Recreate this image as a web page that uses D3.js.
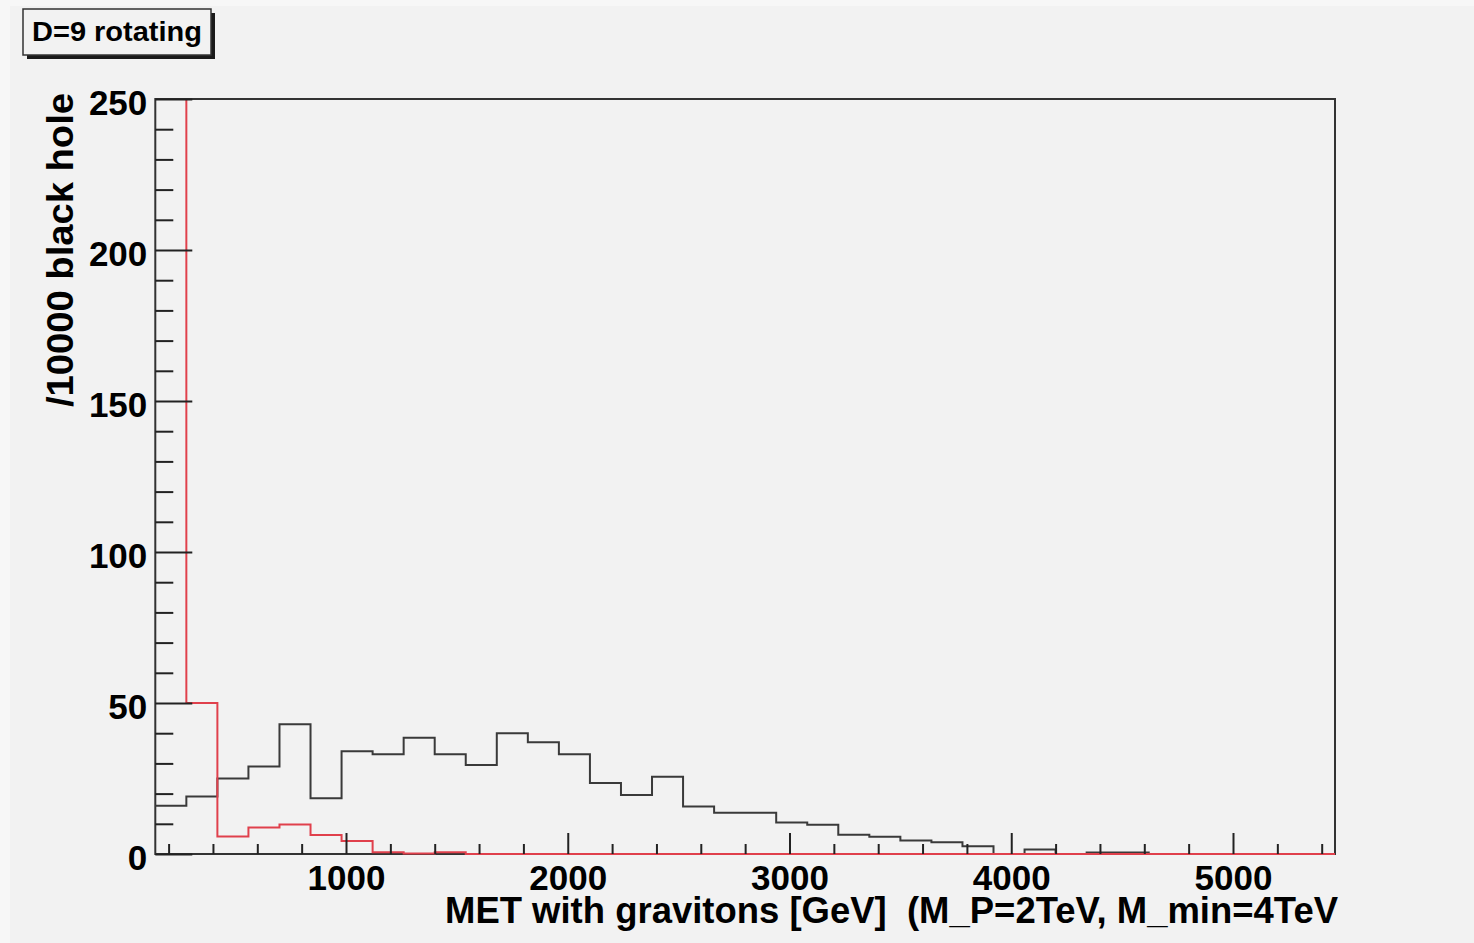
<!DOCTYPE html>
<html>
<head>
<meta charset="utf-8">
<script src="https://cdn.jsdelivr.net/npm/d3@7"></script>
<style>
  html, body { margin: 0; padding: 0; background: #f2f2f2; }
  svg { display: block; }
  text { font-family: "Liberation Sans", Arial, Helvetica, sans-serif; font-weight: bold; }
</style>
</head>
<body>
<svg id="chart" width="1474" height="943"></svg>
<script>
// Histogram binning (GeV)
const binLow = 140;
const binWidth = 140;
const xRange = [140, 5460];
const yRange = [0, 250];

// Entries per bin, normalised to 10000 black holes
const blackCounts = [
  16, 19, 25, 29, 43, 18.5, 34, 33, 38.5, 33,
  29.5, 40, 37, 33, 23.5, 19.5, 25.6, 15.7, 13.7, 13.7,
  10.4, 9.7, 6.4, 5.7, 4.5, 3.9, 2.6, 0, 1.5, 0,
  0.5, 0.5, 0, 0, 0, 0, 0, 0
];
const redCounts = [
  499, 50, 5.8, 8.8, 9.8, 6.3, 4.3, 0.6, 0.2, 0.6,
  0, 0, 0, 0, 0, 0, 0, 0, 0, 0,
  0, 0, 0, 0, 0, 0, 0, 0, 0, 0,
  0, 0, 0, 0, 0, 0, 0, 0
];

// Axis ticks
const xMajorTicks = [1000, 2000, 3000, 4000, 5000];
const xMinorTicks = d3.range(200, 5460, 200).filter(v => v % 1000 !== 0);
const yMajorTicks = [0, 50, 100, 150, 200, 250];
const yMinorTicks = d3.range(0, 251, 10).filter(v => v % 50 !== 0);

const titleText = "D=9 rotating";
const xTitle = "MET with gravitons [GeV]  (M_P=2TeV, M_min=4TeV";
const yTitle = "/10000 black hole";

const frame = { left: 155.3, right: 1335, top: 99, bottom: 854 };

const svg = d3.select("#chart");

// canvas
svg.append("rect").attr("width", 1474).attr("height", 943).attr("fill", "#f2f2f2");
svg.append("rect").attr("x", 0).attr("y", 0).attr("width", 1474).attr("height", 6).attr("fill", "#f7f7f7");
svg.append("rect").attr("x", 0).attr("y", 0).attr("width", 10).attr("height", 943).attr("fill", "#f7f7f7");

const x = d3.scaleLinear().domain(xRange).range([frame.left, frame.right]);
const y = d3.scaleLinear().domain(yRange).range([frame.bottom, frame.top]);

// frame
svg.append("rect")
  .attr("x", frame.left).attr("y", frame.top)
  .attr("width", frame.right - frame.left).attr("height", frame.bottom - frame.top)
  .attr("fill", "#f2f2f2").attr("stroke", "#333").attr("stroke-width", 2);

svg.append("clipPath").attr("id", "plotClip")
  .append("rect")
  .attr("x", frame.left - 1).attr("y", frame.top)
  .attr("width", frame.right - frame.left + 2).attr("height", frame.bottom - frame.top + 3);

function stepPoints(counts) {
  const pts = [];
  counts.forEach((c, i) => {
    const lo = binLow + i * binWidth;
    pts.push([lo, c], [lo + binWidth, c]);
  });
  return pts;
}

const line = d3.line().x(d => x(d[0])).y(d => y(d[1]));
const plot = svg.append("g").attr("clip-path", "url(#plotClip)");

plot.append("path").datum(stepPoints(blackCounts))
  .attr("d", line).attr("fill", "none")
  .attr("stroke", "#3a3a3a").attr("stroke-width", 2);

plot.append("path").datum(stepPoints(redCounts))
  .attr("d", line).attr("fill", "none")
  .attr("stroke", "#e0404c").attr("stroke-width", 2);

// x axis: ticks point into the frame
const xAxisMajor = svg.append("g")
  .attr("transform", `translate(0,${frame.bottom})`)
  .call(d3.axisBottom(x).tickValues(xMajorTicks).tickSize(-21).tickPadding(11).tickFormat(d3.format("d")));
const xAxisMinor = svg.append("g")
  .attr("transform", `translate(0,${frame.bottom})`)
  .call(d3.axisBottom(x).tickValues(xMinorTicks).tickSize(-10).tickFormat(""));

// y axis
const yAxisMajor = svg.append("g")
  .attr("transform", `translate(${frame.left},0)`)
  .call(d3.axisLeft(y).tickValues(yMajorTicks).tickSize(-37).tickPadding(8).tickFormat(d3.format("d")));
const yAxisMinor = svg.append("g")
  .attr("transform", `translate(${frame.left},0)`)
  .call(d3.axisLeft(y).tickValues(yMinorTicks).tickSize(-18).tickFormat(""));

[xAxisMajor, xAxisMinor, yAxisMajor, yAxisMinor].forEach(g => {
  g.select(".domain").remove();
  g.selectAll(".tick line").attr("stroke", "#222").attr("stroke-width", 2);
  g.selectAll("text")
    .attr("font-family", "'Liberation Sans', Arial, Helvetica, sans-serif")
    .attr("font-weight", "bold").attr("font-size", 35).attr("fill", "#000");
});
yAxisMajor.selectAll("text").attr("dy", "0.43em");

// axis titles
svg.append("text")
  .attr("x", 1338).attr("y", 923)
  .attr("text-anchor", "end")
  .attr("font-size", 36).attr("fill", "#000")
  .style("white-space", "pre")
  .attr("textLength", 893).attr("lengthAdjust", "spacingAndGlyphs")
  .text(xTitle);

svg.append("text")
  .attr("transform", "translate(73,93) rotate(-90)")
  .attr("text-anchor", "end")
  .attr("font-size", 36).attr("fill", "#000")
  .attr("textLength", 314).attr("lengthAdjust", "spacingAndGlyphs")
  .text(yTitle);

// title box with drop shadow
svg.append("rect").attr("x", 27).attr("y", 13).attr("width", 188).attr("height", 46).attr("fill", "#1a1a1a");
svg.append("rect").attr("x", 23).attr("y", 9).attr("width", 188).attr("height", 46)
  .attr("fill", "#f2f2f2").attr("stroke", "#333").attr("stroke-width", 1.5);
svg.append("text")
  .attr("x", 32).attr("y", 41)
  .attr("font-size", 27).attr("fill", "#000")
  .attr("textLength", 170).attr("lengthAdjust", "spacingAndGlyphs")
  .text(titleText);
</script>
</body>
</html>
